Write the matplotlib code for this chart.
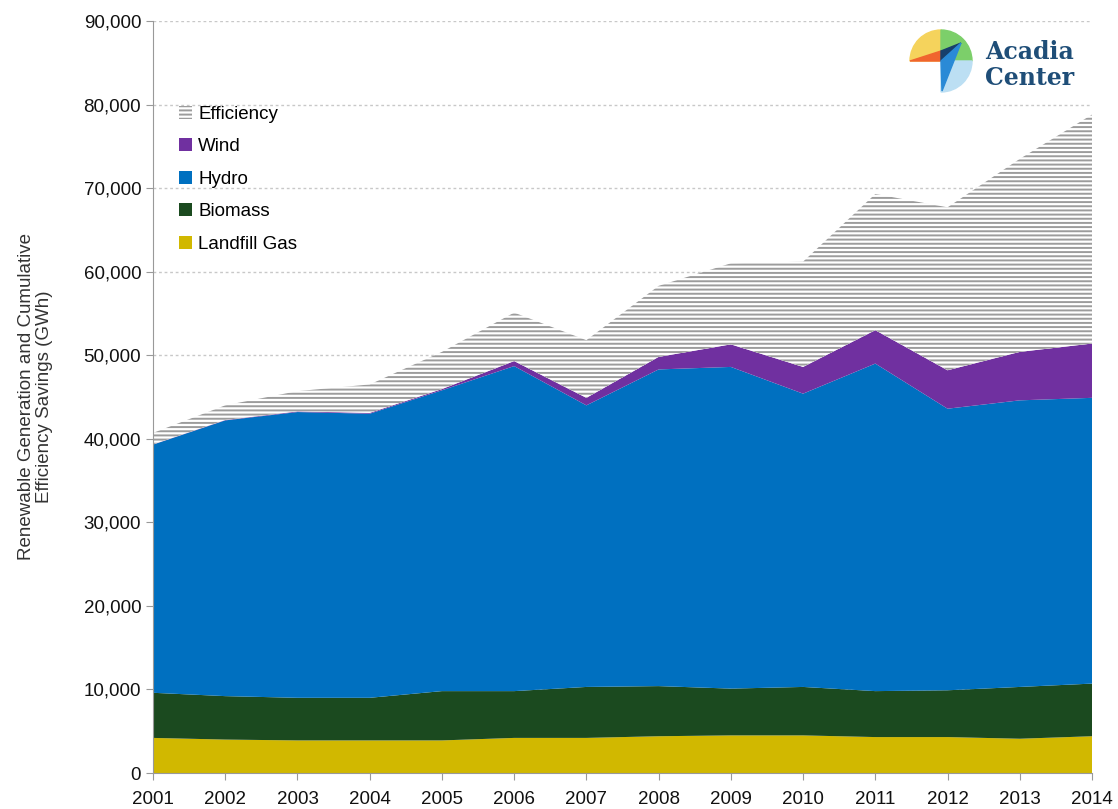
import numpy as np
import matplotlib
matplotlib.use("Agg")
import matplotlib.pyplot as plt
from matplotlib.patches import Patch, Wedge, Polygon

plt.rcParams['font.family'] = ['Liberation Sans', 'DejaVu Sans']
plt.rcParams['hatch.linewidth'] = 1.4

# data (GWh)
years = [2001, 2002, 2003, 2004, 2005, 2006, 2007, 2008, 2009, 2010, 2011, 2012, 2013, 2014]
landfill_gas = [4200, 4000, 3900, 3900, 3900, 4200, 4200, 4400, 4500, 4500, 4300, 4300, 4100, 4400]
biomass = [5400, 5200, 5100, 5100, 5900, 5600, 6100, 6000, 5600, 5800, 5500, 5600, 6200, 6300]
hydro = [29700, 33000, 34200, 34000, 36000, 38900, 33700, 37900, 38500, 35100, 39200, 33700, 34300, 34200]
wind = [30, 50, 80, 100, 150, 600, 900, 1500, 2700, 3200, 4000, 4600, 5800, 6500]
efficiency = [1370, 1750, 2420, 3400, 4450, 5800, 6900, 8500, 9700, 12600, 16300, 19500, 23100, 27400]

names = ['Landfill Gas', 'Biomass', 'Hydro', 'Wind', 'Efficiency']
colors = ['#d1b800', '#1b4a1f', '#0070c0', '#7030a0', 'white']
hatch_gray = '#9c9c9c'

fig = plt.figure(figsize=(11.18, 8.09), dpi=100)
ax = fig.add_axes([153/1118, 1-773/809, 939/1118, 752/809])

series = [landfill_gas, biomass, hydro, wind, efficiency]
base = np.zeros(len(years))
for name, vals, c in zip(names, series, colors):
    top = base + np.array(vals)
    if name == 'Efficiency':
        ax.fill_between(years, base, top, facecolor='white', edgecolor=hatch_gray,
                        hatch='----', linewidth=0, zorder=2)
    else:
        ax.fill_between(years, base, top, facecolor=c, linewidth=0, zorder=2)
    base = top

ax.set_xlim(2001, 2014)
ax.set_ylim(0, 90000)
ax.set_xticks(years)
ax.set_yticks(np.arange(0, 90001, 10000))
ax.set_yticklabels([f'{v:,}' for v in range(0, 90001, 10000)])
ax.tick_params(axis='both', labelsize=13.5, color='#999999', length=5, labelcolor='#111111')
ax.tick_params(axis='x', pad=8)
ax.grid(axis='y', linestyle=(0, (2, 2)), color='#c8c8c8', linewidth=1, zorder=0)
ax.set_axisbelow(True)
for s in ['top', 'right']:
    ax.spines[s].set_visible(False)
ax.spines['left'].set_color('#999999')
ax.spines['bottom'].set_color('#999999')

ax.set_ylabel('Renewable Generation and Cumulative\nEfficiency Savings (GWh)',
              fontsize=13.5, color='#333333', labelpad=22, linespacing=1.1)

handles = [Patch(facecolor='white', edgecolor=hatch_gray, hatch='----', linewidth=0),
           Patch(facecolor='#7030a0'), Patch(facecolor='#0070c0'),
           Patch(facecolor='#1b4a1f'), Patch(facecolor='#d1b800')]
labels = ['Efficiency', 'Wind', 'Hydro', 'Biomass', 'Landfill Gas']
ax.legend(handles, labels, loc='upper left', bbox_to_anchor=(0.01, 0.91), frameon=False,
          fontsize=13.5, handlelength=0.7, handleheight=0.7, handletextpad=0.3,
          labelspacing=0.82)

# logo
lax = fig.add_axes([900/1118, 1-100/809, 90/1118, 80/809])
lax.set_xlim(900, 990)
lax.set_ylim(100, 20)
lax.set_aspect('equal')
lax.axis('off')
cx, cy, r = 941, 61, 31
lax.add_patch(Wedge((cx, cy), r, 180, 270, color='#f5d35c'))
lax.add_patch(Wedge((cx, cy), r, 270, 360, color='#7ccf6a'))
lax.add_patch(Wedge((cx, cy), r, 0, 90, color='#bcdff3'))
lax.add_patch(Polygon([(cx - r, cy), (cx, cy - 10), (cx, cy)], color='#f0642e'))
lax.add_patch(Polygon([(cx, cy), (cx, cy - 10), (cx + 20, cy - 18)], color='#173f6b'))
lax.add_patch(Polygon([(cx, cy), (cx + 20, cy - 18), (cx + 1, cy + 30)], color='#2a8ad6'))

fig.text(985/1118, 1-52/809, 'Acadia', fontsize=17, fontweight='bold', color='#1f4e78',
         family='DejaVu Serif', va='center', ha='left')
fig.text(985/1118, 1-78/809, 'Center', fontsize=17, fontweight='bold', color='#1f4e78',
         family='DejaVu Serif', va='center', ha='left')

fig.savefig('out.png', dpi=100)
